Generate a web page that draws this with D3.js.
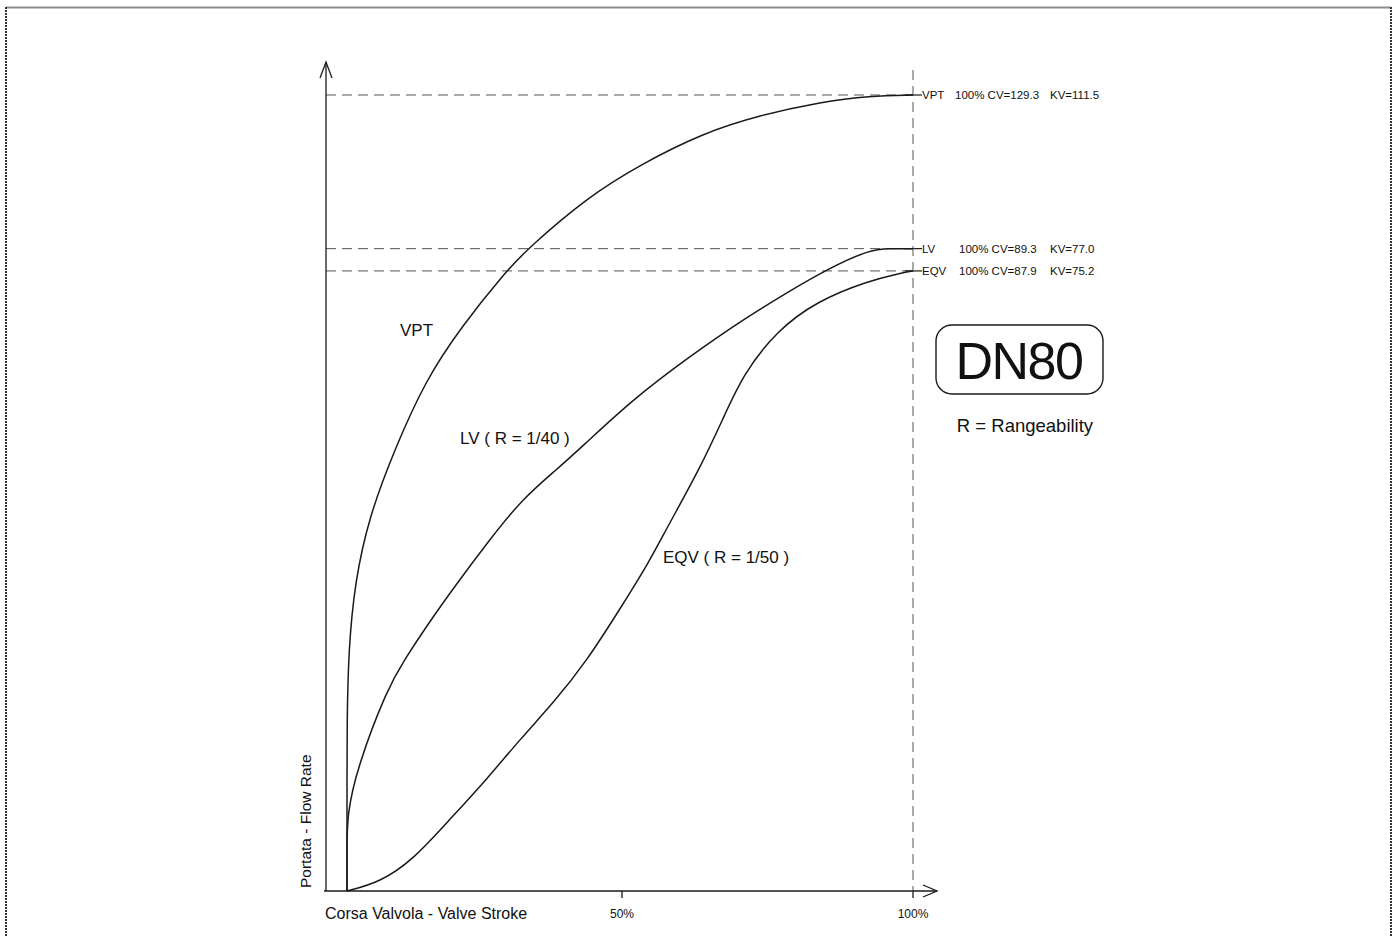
<!DOCTYPE html>
<html>
<head>
<meta charset="utf-8">
<script src="https://cdn.jsdelivr.net/npm/d3@7"></script>
<style>
  html, body { margin: 0; padding: 0; background: #fff; }
  svg { display: block; }
  text { font-family: "Liberation Sans", Arial, sans-serif; fill: #111; }
</style>
</head>
<body>
<svg id="chart"></svg>
<script>
// valve stroke (%) / relative flow (VPT max = 100)
const vptStroke = [0, 0, 0, 0.3, 1.4, 4.0, 8.6, 14.3, 20.8, 29.0, 33.0, 43.8, 53.0, 63.8, 73.9, 84.0, 92.6, 100];
const vptFlow   = [0, 10, 21.9, 30.3, 38.7, 47.0, 55.4, 64.2, 70.9, 77.9, 80.8, 87.2, 91.2, 95.2, 97.5, 99.1, 99.9, 100];

const lvStroke = [0, 0, 0, 1.8, 7.3, 10.5, 14.5, 19.3, 26.0, 31.8, 38.2, 42.4, 51.9, 61.7, 70.8, 78.4, 85.2, 92.6, 96.0, 100];
const lvFlow   = [0, 5, 9.5, 15.4, 25.4, 29.1, 33.3, 38.0, 44.2, 49.2, 53.0, 55.6, 61.8, 67.2, 71.8, 75.2, 78.1, 80.6, 80.7, 80.7];

const eqvStroke = [0, 6.0, 12.0, 18.7, 25.5, 31.5, 37.5, 43.6, 49.6, 54.8, 57.7, 63.4, 67.4, 70.8, 76.6, 83.5, 92.1, 97.8, 100];
const eqvFlow   = [0, 1.1, 3.9, 9.0, 14.1, 19.1, 23.6, 28.9, 35.4, 41.5, 45.6, 53.1, 59.4, 64.9, 70.4, 74.1, 76.6, 77.6, 77.9];

const seriesNames = ['VPT', 'LV', 'EQV'];
const cvValues = ['129.3', '89.3', '87.9'];
const kvValues = ['111.5', '77.0', '75.2'];
const curveLabels = ['VPT', 'LV ( R = 1/40 )', 'EQV ( R = 1/50 )'];

const strokeTicks = [50, 100];
const strokeTickLabels = ['50%', '100%'];

const W = 1394, H = 937;
const svg = d3.select('#chart').attr('width', W).attr('height', H);

// the drawing is not quite to scale, 50% sits a little left of the middle
const x = d3.scaleLinear().domain([0, 50, 100]).range([347, 622, 913]);
const y = d3.scaleLinear().domain([0, 100]).range([891, 95]);
const axisX0 = 326;

const ink = '#1a1a1a';
const dashInk = '#555';

// page frame
svg.append('line').attr('x1', 6).attr('x2', 1391).attr('y1', 7.5).attr('y2', 7.5)
  .attr('stroke', '#8a8a8a').attr('stroke-width', 2);
svg.append('line').attr('x1', 6).attr('x2', 6).attr('y1', 7).attr('y2', H)
  .attr('stroke', '#333').attr('stroke-width', 2).attr('stroke-dasharray', '2,1');
svg.append('line').attr('x1', 1391).attr('x2', 1391).attr('y1', 7).attr('y2', H)
  .attr('stroke', '#333').attr('stroke-width', 2).attr('stroke-dasharray', '2,1');

const series = [
  { name: seriesNames[0], pts: d3.zip(vptStroke, vptFlow) },
  { name: seriesNames[1], pts: d3.zip(lvStroke, lvFlow) },
  { name: seriesNames[2], pts: d3.zip(eqvStroke, eqvFlow) }
];

// dashed reference lines
const g = svg.append('g');
series.forEach(s => {
  const top = s.pts[s.pts.length - 1][1];
  g.append('line')
    .attr('x1', axisX0).attr('x2', x(100))
    .attr('y1', y(top)).attr('y2', y(top))
    .attr('stroke', dashInk).attr('stroke-width', 1).attr('stroke-dasharray', '10,6');
  g.append('line')
    .attr('x1', x(100) - 8).attr('x2', x(100) + 9)
    .attr('y1', y(top)).attr('y2', y(top))
    .attr('stroke', ink).attr('stroke-width', 1.2);
});

g.append('line')
  .attr('x1', x(100)).attr('x2', x(100))
  .attr('y1', 70).attr('y2', y(0))
  .attr('stroke', dashInk).attr('stroke-width', 1).attr('stroke-dasharray', '10,6');

// axes
const axes = svg.append('g').attr('stroke', ink).attr('stroke-width', 1.3).attr('fill', 'none');
axes.append('line').attr('x1', axisX0).attr('x2', axisX0).attr('y1', y(0)).attr('y2', 62);
axes.append('path').attr('d', `M${axisX0 - 6},78 L${axisX0},62 L${axisX0 + 6},78`);
axes.append('line').attr('x1', axisX0 - 2).attr('x2', 937).attr('y1', y(0)).attr('y2', y(0));
axes.append('path').attr('d', `M923,${y(0) - 6} L937,${y(0)} L923,${y(0) + 6}`);

strokeTicks.forEach((t, i) => {
  axes.append('line').attr('x1', x(t)).attr('x2', x(t)).attr('y1', y(0)).attr('y2', y(0) + 7);
  svg.append('text')
    .attr('x', x(t)).attr('y', y(0) + 27)
    .attr('text-anchor', 'middle')
    .style('font-size', '12px')
    .text(strokeTickLabels[i]);
});

svg.append('text')
  .attr('x', 325).attr('y', y(0) + 28)
  .style('font-size', '16px')
  .text('Corsa Valvola - Valve Stroke');

svg.append('text')
  .attr('transform', `translate(311,${y(0) - 3}) rotate(-90)`)
  .style('font-size', '15.5px')
  .text('Portata - Flow Rate');

// curves
const line = d3.line()
  .x(d => x(d[0]))
  .y(d => y(d[1]))
  .curve(d3.curveBasis);

svg.append('g').selectAll('path')
  .data(series)
  .join('path')
  .attr('d', d => line(d.pts))
  .attr('fill', 'none')
  .attr('stroke', ink)
  .attr('stroke-width', 1.5);

// labels at the right of the 100% line
const cvStart = [955, 959, 959];
series.forEach((s, i) => {
  const top = s.pts[s.pts.length - 1][1];
  const ty = y(top) + 4;
  svg.append('text').attr('x', 922).attr('y', ty).style('font-size', '11.5px').text(s.name);
  svg.append('text').attr('x', cvStart[i]).attr('y', ty)
    .style('font-size', '11.5px').text(`100% CV=${cvValues[i]}`);
  svg.append('text').attr('x', 1050).attr('y', ty).style('font-size', '11.5px').text(`KV=${kvValues[i]}`);
});

// curve names
const labelPos = [[400, 336], [460, 444], [663, 563]];
curveLabels.forEach((t, i) => {
  svg.append('text')
    .attr('x', labelPos[i][0]).attr('y', labelPos[i][1])
    .style('font-size', '17px')
    .text(t);
});

// size badge
svg.append('rect')
  .attr('x', 936).attr('y', 325).attr('width', 167).attr('height', 69)
  .attr('rx', 16).attr('ry', 16)
  .attr('fill', 'none').attr('stroke', ink).attr('stroke-width', 1.4);
svg.append('text')
  .attr('x', 1019).attr('y', 379)
  .attr('text-anchor', 'middle')
  .style('font-size', '52px')
  .style('letter-spacing', '-1.5px')
  .text('DN80');
svg.append('text')
  .attr('x', 1025).attr('y', 432)
  .attr('text-anchor', 'middle')
  .style('font-size', '18.5px')
  .text('R = Rangeability');
</script>
</body>
</html>
